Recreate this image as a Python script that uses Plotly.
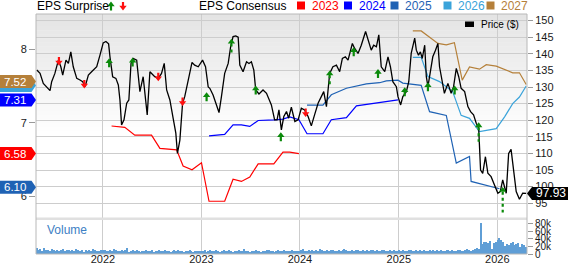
import plotly.graph_objects as go
import pandas as pd

# ---------------- data ----------------
price_dates = [
    "2021-05-01", "2021-05-13", "2021-05-25", "2021-06-07", "2021-06-19", "2021-06-25", "2021-07-07", "2021-07-20", "2021-07-29", "2021-08-05",
    "2021-08-17", "2021-08-26", "2021-09-04", "2021-09-13", "2021-09-26", "2021-10-08", "2021-10-18", "2021-10-27", "2021-11-08", "2021-11-20",
    "2021-12-09", "2021-12-21", "2022-01-02", "2022-01-12", "2022-01-22", "2022-01-27", "2022-02-06", "2022-02-18", "2022-02-27", "2022-03-05",
    "2022-03-11", "2022-03-20", "2022-03-30", "2022-04-07", "2022-04-15", "2022-04-23", "2022-05-06", "2022-05-18", "2022-05-30", "2022-06-14",
    "2022-06-24", "2022-07-12", "2022-07-25", "2022-08-06", "2022-08-16", "2022-08-25", "2022-09-06", "2022-09-18", "2022-09-28", "2022-10-04",
    "2022-10-13", "2022-10-23", "2022-10-31", "2022-11-13", "2022-11-27", "2022-12-07", "2022-12-20", "2023-01-05", "2023-01-16", "2023-01-26",
    "2023-02-01", "2023-02-13", "2023-02-26", "2023-03-07", "2023-03-16", "2023-03-28", "2023-04-10", "2023-04-19", "2023-04-28", "2023-05-08",
    "2023-05-17", "2023-05-23", "2023-06-04", "2023-06-17", "2023-06-26", "2023-07-05", "2023-07-14", "2023-07-21", "2023-08-02", "2023-08-17",
    "2023-08-30", "2023-09-08", "2023-09-17", "2023-09-29", "2023-10-08", "2023-10-15", "2023-10-24", "2023-11-02", "2023-11-12", "2023-11-20",
    "2023-11-30", "2023-12-13", "2023-12-25", "2024-01-06", "2024-01-18", "2024-01-31", "2024-02-12", "2024-02-24", "2024-03-08", "2024-03-20",
    "2024-03-29", "2024-04-08", "2024-04-20", "2024-05-02", "2024-05-15", "2024-05-27", "2024-06-06", "2024-06-17", "2024-06-27", "2024-07-13",
    "2024-07-21", "2024-08-03", "2024-08-15", "2024-08-31", "2024-09-09", "2024-09-21", "2024-09-30", "2024-10-10", "2024-10-19", "2024-10-28",
    "2024-11-10", "2024-11-22", "2024-12-01", "2024-12-10", "2024-12-23", "2024-12-29", "2025-01-08", "2025-01-16", "2025-01-29", "2025-02-07",
    "2025-02-16", "2025-03-01", "2025-03-07", "2025-03-15", "2025-03-22", "2025-03-29", "2025-04-07", "2025-04-13", "2025-04-19", "2025-04-29",
    "2025-05-07", "2025-05-17", "2025-05-26", "2025-06-01", "2025-06-11", "2025-06-19", "2025-07-02", "2025-07-14", "2025-07-23", "2025-08-02",
    "2025-08-11", "2025-08-20", "2025-09-02", "2025-09-14", "2025-09-24", "2025-10-05", "2025-10-15", "2025-10-24", "2025-10-31", "2025-11-08",
    "2025-11-18", "2025-11-27", "2025-12-09", "2025-12-18", "2026-01-03", "2026-01-12", "2026-01-21", "2026-02-03", "2026-02-12", "2026-02-21",
    "2026-03-02", "2026-03-12", "2026-03-24", "2026-04-05", "2026-04-18",
]
price_values = [
    135.1, 134.1, 131.1, 130.1, 128.9, 131.6, 134.1, 138.1, 136.1, 133.6,
    138.1, 137.1, 140.6, 136.1, 132.6, 132.1, 131.6, 130.1, 133.6, 134.6,
    136.1, 139.6, 143.3, 143.7, 143.0, 139.1, 133.1, 132.6, 130.6, 126.1,
    118.6, 120.1, 125.1, 126.1, 137.1, 138.6, 138.1, 128.6, 133.1, 121.6,
    134.6, 133.1, 132.6, 134.1, 137.1, 129.1, 126.1, 120.6, 116.1, 110.0,
    114.0, 125.1, 127.1, 132.1, 137.4, 136.6, 136.1, 138.1, 136.1, 130.0,
    129.6, 127.6, 124.1, 122.3, 127.1, 134.1, 137.1, 142.1, 145.2, 145.4,
    145.0, 136.6, 134.6, 137.6, 137.1, 137.6, 135.1, 129.1, 127.9, 129.1,
    128.1, 126.6, 124.6, 120.1, 120.1, 123.1, 117.1, 121.1, 122.6, 120.6,
    123.9, 119.6, 120.1, 123.6, 123.1, 121.1, 118.3, 121.6, 125.1, 127.1,
    128.6, 124.1, 134.1, 136.1, 136.6, 134.6, 138.6, 139.1, 138.1, 143.1,
    141.7, 140.1, 142.6, 146.7, 144.2, 141.1, 142.6, 142.1, 145.7, 136.1,
    134.6, 139.1, 136.1, 131.6, 130.1, 127.1, 124.6, 127.1, 128.6, 131.6,
    140.1, 144.7, 141.1, 139.6, 140.6, 138.6, 142.6, 133.1, 130.1, 134.6,
    139.1, 141.1, 143.1, 136.1, 131.1, 128.1, 131.1, 128.1, 130.1, 135.6,
    133.1, 129.6, 128.6, 124.1, 122.6, 121.6, 119.1, 117.6, 105.0, 104.0,
    109.0, 104.0, 103.0, 101.0, 98.0, 98.5, 102.0, 98.0, 110.0, 111.2,
    105.0, 98.5, 96.2, 98.0, 97.93,
]

cons_2023_dates = ["2022-02-02", "2022-03-23", "2022-04-29", "2022-06-30", "2022-07-31", "2022-10-01", "2022-10-25",
                   "2022-11-27", "2023-01-01", "2023-01-29", "2023-03-28", "2023-04-28", "2023-05-29", "2023-06-29",
                   "2023-07-30", "2023-09-26", "2023-10-30", "2023-11-24", "2023-12-28"]
cons_2023 = [6.955, 6.937, 6.83, 6.83, 6.65, 6.63, 6.41, 6.36, 6.455, 5.93, 5.93, 6.23, 6.20, 6.26,
             6.44, 6.44, 6.60, 6.60, 6.58]

cons_2024_dates = ["2023-01-29", "2023-03-28", "2023-04-28", "2023-05-29", "2023-06-29", "2023-07-30", "2023-09-26",
                   "2023-10-30", "2023-11-24", "2023-12-28", "2024-01-27", "2024-03-26", "2024-04-26", "2024-06-21",
                   "2024-07-28", "2024-10-22", "2024-12-29"]
cons_2024 = [6.82, 6.84, 6.97, 6.97, 6.95, 7.03, 7.04, 7.05, 7.08, 7.04, 6.85, 6.85, 7.04, 7.07, 7.23, 7.27, 7.31]

cons_2025_dates = ["2024-01-27", "2024-03-26", "2024-04-26", "2024-06-21", "2024-09-03", "2024-10-22", "2024-11-16",
                   "2024-12-29", "2025-01-16", "2025-03-25", "2025-04-25", "2025-06-26", "2025-08-02", "2025-09-20",
                   "2025-09-26", "2025-11-21", "2025-12-28", "2026-01-09"]
cons_2025 = [7.24, 7.24, 7.38, 7.47, 7.53, 7.545, 7.57, 7.58, 7.54, 7.51, 7.15, 7.10, 6.45, 6.54, 6.20, 6.15, 6.12, 6.10]

cons_2026_dates = ["2025-02-22", "2025-03-25", "2025-04-19", "2025-06-01", "2025-07-20", "2025-08-20", "2025-09-20",
                   "2025-10-27", "2025-12-28", "2026-01-28", "2026-02-27", "2026-03-24", "2026-04-18"]
cons_2026 = [7.89, 7.89, 7.63, 7.56, 7.42, 7.10, 7.06, 6.88, 6.92, 7.08, 7.26, 7.35, 7.50]

cons_2027_dates = ["2025-02-22", "2025-03-25", "2025-05-26", "2025-06-26", "2025-07-26", "2025-08-24", "2025-09-20",
                   "2025-10-27", "2025-11-21", "2025-12-28", "2026-02-27", "2026-03-24", "2026-04-18"]
cons_2027 = [8.25, 8.25, 8.08, 8.06, 8.09, 7.58, 7.76, 7.73, 7.79, 7.77, 7.68, 7.68, 7.52]

consensus_years = ["2023", "2024", "2025", "2026", "2027"]

surprise_dates = ["2021-07-22", "2021-10-24", "2022-01-24", "2022-04-21", "2022-07-25", "2022-10-23", "2023-01-20",
                  "2023-04-22", "2023-07-21", "2023-10-22", "2024-01-22", "2024-04-20", "2024-07-18", "2024-10-16",
                  "2025-01-23", "2025-04-19", "2025-07-27", "2025-10-24", "2026-01-21"]
surprise_price = [137.8, 130.9, 137.3, 137.5, 133.1, 125.6, 127.1, 143.2, 129.1, 115.0, 122.3, 133.6, 140.6, 134.1,
                  128.6, 130.1, 129.1, 118.0, 98.5]
surprise_pct = [-3, -4, 3, 2, -2, -3, 2, 8, 3, 2, -2, 8, 2, 3, 2, 3, 3, 10, 14]

volume_start = "2021-04-30"
volume_k = [
    # 2021 (May-Dec)
    15, 11, 13, 9, 16, 10, 12, 9, 14, 10, 9, 12, 8, 10, 13, 9, 11, 10, 8, 12, 9, 14, 10, 8, 11, 7, 10, 9, 12, 9, 13, 10, 8, 9, 11,
    # 2022
    10, 12, 9, 8, 11, 9, 13, 10, 8, 9, 12, 8, 10, 16, 7, 8, 11, 9, 10, 8, 7, 9, 8, 10, 9, 8, 11, 7, 8, 9, 10, 8, 9, 12, 9, 8, 7, 9, 10, 8, 11, 9, 8, 7, 9, 8, 10, 9, 7, 8, 9, 8,
    # 2023
    9, 8, 10, 7, 9, 12, 8, 9, 11, 8, 7, 9, 10, 8, 9, 11, 8, 7, 9, 8, 10, 9, 8, 13, 9, 8, 7, 9, 8, 10, 9, 8, 7, 9, 8, 10, 11, 8, 9, 7, 8, 12, 9, 8, 10, 9, 8, 9, 10, 8, 9, 8,
    # 2024
    9, 10, 14, 9, 8, 11, 9, 10, 8, 12, 9, 13, 10, 9, 8, 11, 9, 12, 10, 9, 8, 10, 9, 11, 14, 10, 9, 8, 11, 9, 10, 12, 9, 8, 10, 9, 11, 8, 10, 12, 9, 10, 8, 9, 11, 10, 9, 8, 10, 9, 11, 9,
    # 2025 before late October
    8, 10, 9, 11, 9, 8, 12, 10, 9, 8, 11, 9, 10, 9, 12, 8, 9, 10, 9, 11, 8, 10, 9, 12, 9, 8, 10, 11, 9, 10, 8, 9, 12, 10, 9, 8, 11, 13, 10, 9, 12, 14, 15, 13,
    # late October 2025 onward
    82, 28, 31, 33, 30, 34, 13, 30, 32, 36, 42, 38, 31, 22, 26, 24, 29, 33, 23, 27, 30, 20, 28, 25, 19,
]

# ---------------- style ----------------
FONT = "Liberation Sans, Arial, Helvetica, sans-serif"
COLORS = {"2023": "#ff0000", "2024": "#0000ff", "2025": "#1f62b4", "2026": "#3aa3da", "2027": "#b5803a"}
GRID = "#cdcdcd"
GREEN = "#0b8a0b"
RED = "#ff1010"
VOLC = "#5f9ed6"
TXT = "#1a1a1a"

W, H = 568, 264
ML, MR, MT, MB = 36, 41, 14, 10
PW, PH = W - ML - MR, H - MT - MB


def px_x(px):
    return (px - ML) / PW


def px_y(py):
    return (H - MB - py) / PH


series = {
    "2023": (cons_2023_dates, cons_2023),
    "2024": (cons_2024_dates, cons_2024),
    "2025": (cons_2025_dates, cons_2025),
    "2026": (cons_2026_dates, cons_2026),
    "2027": (cons_2027_dates, cons_2027),
}

fig = go.Figure()
for yr in consensus_years:
    d, v = series[yr]
    fig.add_trace(go.Scatter(x=d, y=v, yaxis="y", mode="lines", line=dict(color=COLORS[yr], width=1.2),
                             hoverinfo="skip", showlegend=False))

fig.add_trace(go.Scatter(x=price_dates, y=price_values, yaxis="y2", mode="lines",
                         line=dict(color="#000000", width=1.3), hoverinfo="skip", showlegend=False))

vol_dates = pd.date_range(volume_start, periods=len(volume_k), freq="7D")
fig.add_trace(go.Bar(x=vol_dates, y=[v * 1000 for v in volume_k], yaxis="y3", marker_color=VOLC,
                     marker_line_width=0, width=4 * 86400000, hoverinfo="skip", showlegend=False))

shapes = []
annotations = []

# gradient background of the price pane
top_py, end_py, n = MT, 135, 30
step = (end_py - top_py) / n
for i in range(n):
    y0 = top_py + i * step
    t = (i + 0.5) / n
    g = round(228 + (255 - 228) * t)
    shapes.append(dict(type="rect", xref="paper", yref="paper", x0=0, x1=1,
                       y0=px_y(y0 + step + 0.6), y1=px_y(y0), fillcolor=f"rgb({g},{g},{g})",
                       line_width=0, layer="below"))

# separator between price and volume panes
shapes.append(dict(type="rect", xref="paper", yref="paper", x0=0, x1=1, y0=px_y(220), y1=px_y(217.6),
                   fillcolor="#e0e0e0", line_width=0, layer="above"))
# frame
shapes.append(dict(type="rect", xref="paper", yref="paper", x0=0, x1=1, y0=0, y1=1,
                   line=dict(color="#b8b8b8", width=1), fillcolor="rgba(0,0,0,0)", layer="above"))

UP_PATH = "M 0,4.5 L 3.7,-0.3 L 1.1,-0.3 L 1.1,-4.5 L -1.1,-4.5 L -1.1,-0.3 L -3.7,-0.3 Z"
UP_HEAD = "M 0,4.5 L 3.7,-0.3 L -3.7,-0.3 Z"
DOWN_PATH = "M 0,-4.5 L 3.7,0.3 L 1.1,0.3 L 1.1,4.0 L -1.1,4.0 L -1.1,0.3 L -3.7,0.3 Z"

for d, p, s in zip(surprise_dates, surprise_price, surprise_pct):
    base = dict(xref="x", yref="y2", xsizemode="pixel", ysizemode="pixel", xanchor=d, yanchor=p, layer="above")
    if s >= 0:
        if s >= 5:
            shapes.append(dict(base, type="line", x0=0, x1=0, y0=-0.3, y1=-1.5 * s,
                               line=dict(color=GREEN, width=2.2, dash="dot")))
            shapes.append(dict(base, type="path", path=UP_HEAD, fillcolor=GREEN, line_width=0))
        else:
            shapes.append(dict(base, type="path", path=UP_PATH, fillcolor=GREEN, line_width=0))
    else:
        shapes.append(dict(base, type="path", path=DOWN_PATH, fillcolor=RED, line_width=0))

# header: EPS Surprise
annotations.append(dict(text="EPS Surprise", xref="paper", yref="paper", x=px_x(35), y=px_y(6),
                        xanchor="left", yanchor="middle", showarrow=False, font=dict(size=12, color="#000")))
shapes.append(dict(type="path", xref="paper", yref="paper", xsizemode="pixel", ysizemode="pixel",
                   xanchor=px_x(111), yanchor=px_y(6), path=UP_PATH, fillcolor=GREEN, line_width=0))
shapes.append(dict(type="path", xref="paper", yref="paper", xsizemode="pixel", ysizemode="pixel",
                   xanchor=px_x(123), yanchor=px_y(6), path=DOWN_PATH, fillcolor=RED, line_width=0))

# header: EPS Consensus legend
annotations.append(dict(text="EPS Consensus", xref="paper", yref="paper", x=px_x(196.5), y=px_y(6),
                        xanchor="left", yanchor="middle", showarrow=False, font=dict(size=12, color="#000")))
legend_x = {"2023": 297, "2024": 344, "2025": 390.5, "2026": 443.5, "2027": 486.5}
for yr in consensus_years:
    lx = legend_x[yr]
    shapes.append(dict(type="rect", xref="paper", yref="paper", x0=px_x(lx), x1=px_x(lx + 8),
                       y0=px_y(9.5), y1=px_y(1.5), fillcolor=COLORS[yr], line_width=0))
    annotations.append(dict(text=yr, xref="paper", yref="paper", x=px_x(lx + 12.5), y=px_y(6),
                            xanchor="left", yanchor="middle", showarrow=False,
                            font=dict(size=12, color=COLORS[yr])))

# price legend inside plot
shapes.append(dict(type="rect", xref="paper", yref="paper", x0=px_x(465), x1=px_x(474),
                   y0=px_y(27), y1=px_y(21.5), fillcolor="#000", line_width=0))
annotations.append(dict(text="Price ($)", xref="paper", yref="paper", x=px_x(478.5), y=px_y(25),
                        xanchor="left", yanchor="middle", showarrow=False, font=dict(size=10, color="#000")))

# Volume label
annotations.append(dict(text="Volume", xref="paper", yref="paper", x=px_x(44.5), y=px_y(229.5),
                        xanchor="left", yanchor="middle", showarrow=False, font=dict(size=12, color="#3d80c4")))

# left EPS tags (last consensus values); the 2026 tag sits hidden under the 2027 tag
tag_order = ["2025", "2023", "2024", "2026", "2027"]
tag_shift = {"2023": 0, "2024": 0, "2025": 1.5, "2026": 0.5, "2027": 3}
tag_text = {"2023": True, "2024": True, "2025": True, "2026": False, "2027": True}
for yr in tag_order:
    val = series[yr][1][-1]
    s = tag_shift[yr]
    shapes.append(dict(type="path", xref="paper", yref="y", xsizemode="pixel", ysizemode="pixel",
                       xanchor=0, yanchor=val,
                       path=f"M 0,{s} L -4.5,{6.5 + s} L -36,{6.5 + s} L -36,{-6.5 + s} L -4.5,{-6.5 + s} Z",
                       fillcolor=COLORS[yr], line_width=0, layer="above"))
    if tag_text[yr]:
        annotations.append(dict(text=f"{val:.2f}", xref="paper", yref="y", x=0, y=val, xshift=-21,
                                yshift=s, xanchor="center", yanchor="middle", showarrow=False,
                                font=dict(size=11.5, color="#ffffff")))

# right price tag
last_price = price_values[-1]
shapes.append(dict(type="path", xref="paper", yref="y2", xsizemode="pixel", ysizemode="pixel",
                   xanchor=1, yanchor=last_price, path="M 0,0 L 5,6.5 L 42,6.5 L 42,-6.5 L 5,-6.5 Z",
                   fillcolor="#000", line_width=0, layer="above"))
annotations.append(dict(text=f"{last_price:.2f}", xref="paper", yref="y2", x=1, y=last_price, xshift=23.5,
                        xanchor="center", yanchor="middle", showarrow=False, font=dict(size=12, color="#fff")))

fig.update_layout(
    width=W, height=H,
    margin=dict(l=ML, r=MR, t=MT, b=MB, pad=0, autoexpand=False),
    paper_bgcolor="#ffffff", plot_bgcolor="#ffffff",
    font=dict(family=FONT, size=11, color=TXT),
    showlegend=False,
    bargap=0,
    xaxis=dict(type="date", range=["2021-04-28", "2026-04-21"], anchor="y3", domain=[0, 1],
               showgrid=True, gridcolor=GRID, gridwidth=1, dtick="M12", tick0="2022-01-01",
               tickformat="%Y", ticks="", showline=False, zeroline=False, automargin=False,
               ticklabelstandoff=-3,
               tickfont=dict(size=11, color=TXT), fixedrange=True),
    yaxis=dict(domain=[px_y(218), 1], range=[5.702, 8.481], side="left", anchor="x", automargin=False,
               tickvals=[6, 7, 8], ticks="outside", ticklen=6, tickcolor="#999", tickwidth=1,
               showgrid=False, zeroline=False, showline=False, tickfont=dict(size=11, color=TXT)),
    yaxis2=dict(overlaying="y", side="right", anchor="x", range=[90.54, 151.99], dtick=5, tick0=0,
                ticks="outside", ticklen=5, tickcolor="#999", showgrid=True, gridcolor=GRID, gridwidth=1,
                zeroline=False, showline=False, automargin=False, tickfont=dict(size=11, color=TXT)),
    yaxis3=dict(domain=[0, px_y(219.8)], range=[0, 89500], side="right", anchor="x", automargin=False,
                tickvals=[0, 20000, 40000, 60000, 80000], ticktext=["0", "20k", "40k", "60k", "80k"],
                ticks="outside", ticklen=5, tickcolor="#999", showgrid=False, zeroline=False,
                showline=False, tickfont=dict(size=10, color=TXT)),
    shapes=shapes,
    annotations=annotations,
)

fig.write_html("out.html")
